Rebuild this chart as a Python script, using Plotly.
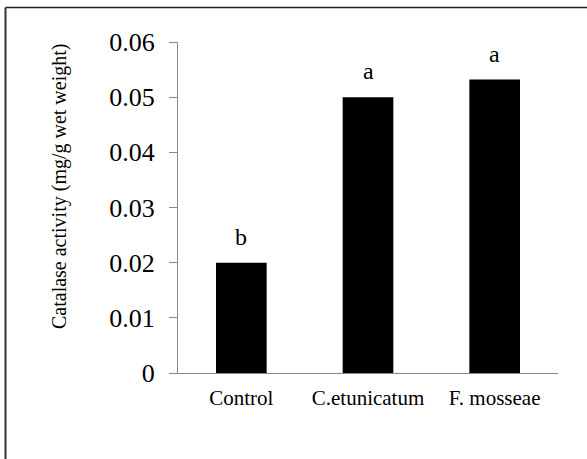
import plotly.graph_objects as go

categories = ["Control", "C.etunicatum", "F. mosseae"]
values = [0.020, 0.050, 0.0532]
letters = ["b", "a", "a"]
y_ticks = [0, 0.01, 0.02, 0.03, 0.04, 0.05, 0.06]
y_tick_labels = ["0", "0.01", "0.02", "0.03", "0.04", "0.05", "0.06"]

W, H = 587, 459
ML, MR, MT, MB = 178, 29, 42, 86
pw = W - ML - MR
ph = H - MT - MB

FONT = "Times New Roman"
AXC = "#898989"

fig = go.Figure()
fig.add_trace(go.Bar(
    x=categories, y=values,
    marker=dict(color="black", line=dict(width=0)),
    width=0.4,
))

for c, v, t in zip(categories, values, letters):
    fig.add_annotation(x=c, y=v, text=t, showarrow=False, yanchor="bottom",
                       yshift=11, font=dict(family=FONT, size=24, color="black"))

fig.add_annotation(xref="paper", yref="paper", x=(59 - ML) / pw, y=(H - MB - 187) / ph,
                   text="Catalase activity (mg/g wet weight)", textangle=-90,
                   showarrow=False, xanchor="center", yanchor="middle",
                   font=dict(family=FONT, size=20, color="black"))

# outer border (top and left edges only visible)
x_left = (5.5 - ML) / pw
y_top = (H - MB - 7.5) / ph
fig.add_shape(type="line", xref="paper", yref="paper", x0=x_left, x1=(W + 5 - ML) / pw,
              y0=y_top, y1=y_top, line=dict(color="#222222", width=1.5))
fig.add_shape(type="line", xref="paper", yref="paper", x0=x_left, x1=x_left,
              y0=y_top, y1=(-MB - 5) / ph, line=dict(color="#333333", width=2))

fig.update_layout(
    width=W, height=H,
    margin=dict(l=ML, r=MR, t=MT, b=MB),
    plot_bgcolor="white", paper_bgcolor="white",
    showlegend=False,
    bargap=0.6,
    font=dict(family=FONT, color="black"),
    xaxis=dict(showline=True, linecolor=AXC, linewidth=1, ticks="",
               tickfont=dict(family=FONT, size=21, color="black"),
               showgrid=False, zeroline=False, ticklabelstandoff=6),
    yaxis=dict(range=[0, 0.06], tickvals=y_ticks, ticktext=y_tick_labels,
               showline=True, linecolor=AXC, linewidth=1,
               ticks="outside", ticklen=8, tickcolor=AXC, tickwidth=1,
               tickfont=dict(family=FONT, size=26, color="black"),
               showgrid=False, zeroline=False, ticklabelstandoff=9),
)

fig.write_html("out.html", config={"displayModeBar": False},
               post_script="document.body.style.margin='0px';document.body.style.overflow='hidden';")
